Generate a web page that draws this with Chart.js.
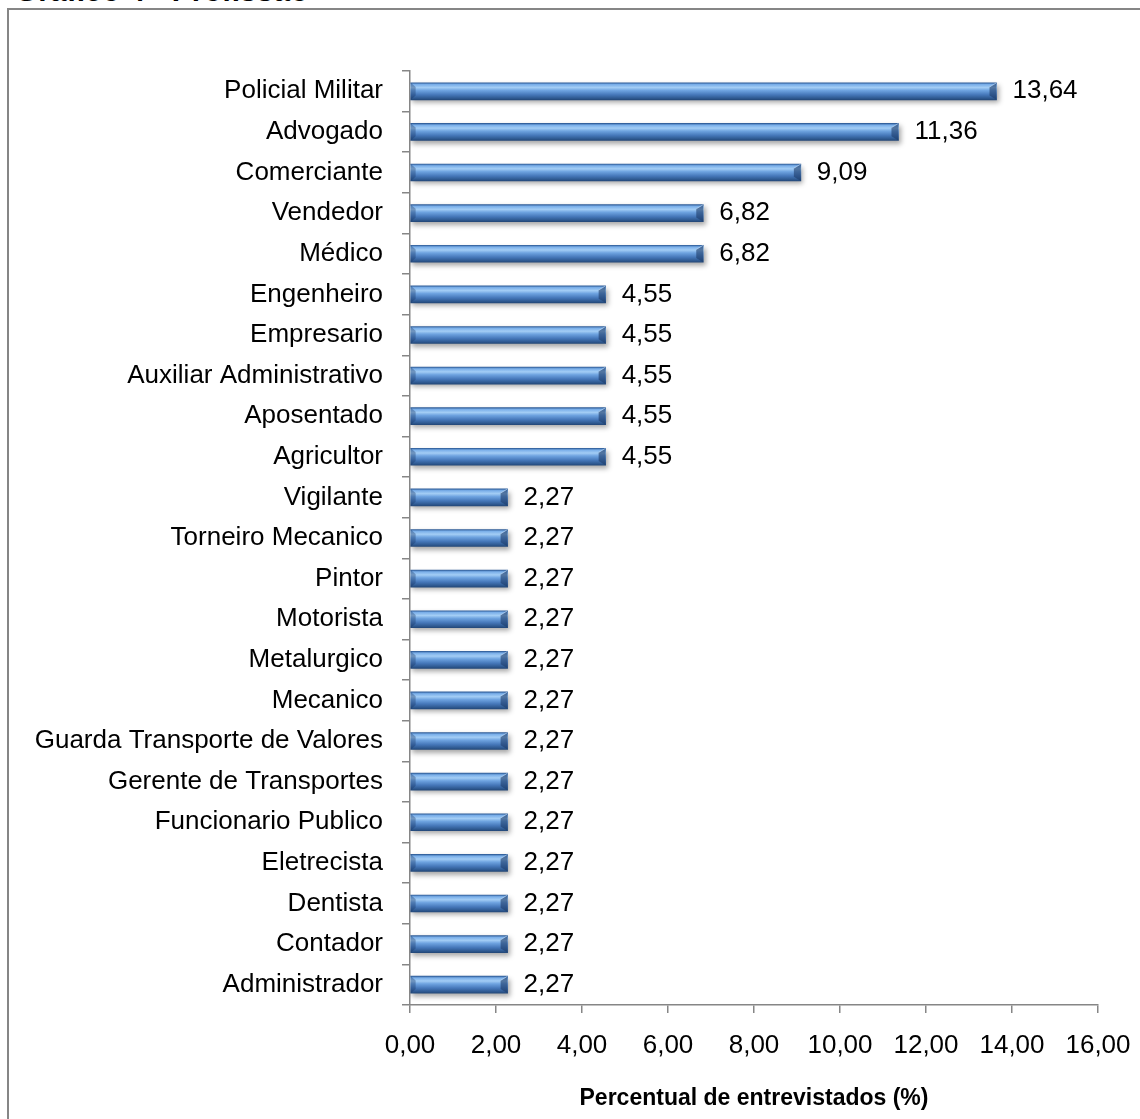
<!DOCTYPE html>
<html>
<head>
<meta charset="utf-8">
<script src="https://cdn.jsdelivr.net/npm/chart.js@4"></script>
<style>
  html, body { margin: 0; padding: 0; background: #fff; overflow: hidden; }
  #wrap { position: relative; width: 1140px; height: 1119px; }
  #frame { position: absolute; left: 7px; top: 8px; width: 1200px; height: 1200px;
           border-top: 2px solid #868686; border-left: 2px solid #868686; box-sizing: border-box; }
  #heading { position: absolute; left: 15px; top: -24px; margin: 0;
             font: bold 30px "Liberation Sans", Arial, sans-serif; line-height: 30px; color: #000; white-space: nowrap; }
  canvas { position: absolute; left: 0; top: 0; }
</style>
</head>
<body>
<div id="wrap">
  <div id="frame"></div>
  <div id="heading">Gráfico 4 - Profissão</div>
  <canvas id="c" width="1140" height="1119"></canvas>
</div>
<script>
// Profession categories, top to bottom
const categories = [
  'Policial Militar', 'Advogado', 'Comerciante', 'Vendedor', 'Médico',
  'Engenheiro', 'Empresario', 'Auxiliar Administrativo', 'Aposentado', 'Agricultor',
  'Vigilante', 'Torneiro Mecanico', 'Pintor', 'Motorista', 'Metalurgico',
  'Mecanico', 'Guarda Transporte de Valores', 'Gerente de Transportes',
  'Funcionario Publico', 'Eletrecista', 'Dentista', 'Contador', 'Administrador'
];
// Share of respondents (%)
const percentages = [
  13.64, 11.36, 9.09, 6.82, 6.82,
  4.55, 4.55, 4.55, 4.55, 4.55,
  2.27, 2.27, 2.27, 2.27, 2.27,
  2.27, 2.27, 2.27, 2.27, 2.27, 2.27, 2.27, 2.27
];
const xTicks = [0, 2, 4, 6, 8, 10, 12, 14, 16];
const axisTitle = 'Percentual de entrevistados (%)';

const FONT = '"Liberation Sans", Arial, sans-serif';
const AXIS_GREY = '#868686';
const BAR_H = 17;

const fmt = v => Number(v).toFixed(2).replace('.', ',');

// Cylinder-like vertical gradient for each bar
function barFill(ctx) {
  const chart = ctx.chart;
  const y = chart.scales.y;
  if (!y || ctx.dataIndex === undefined) return '#4f81bd';
  const cy = y.getPixelForValue(ctx.dataIndex);
  if (!isFinite(cy)) return '#4f81bd';
  const g = chart.ctx.createLinearGradient(0, cy - BAR_H / 2, 0, cy + BAR_H / 2);
  g.addColorStop(0.00, '#2f5d99');
  g.addColorStop(0.10, '#79aee9');
  g.addColorStop(0.28, '#a3cdf5');
  g.addColorStop(0.45, '#6ea3e0');
  g.addColorStop(0.70, '#4678ba');
  g.addColorStop(0.90, '#2f5a92');
  g.addColorStop(1.00, '#24497a');
  return g;
}

// Soft drop shadow under the bars plus bevelled ends
const barDecor = {
  id: 'barDecor',
  beforeDatasetDraw(chart) {
    const c = chart.ctx;
    c.save();
    c.shadowColor = 'rgba(0,0,0,0.35)';
    c.shadowBlur = 5;
    c.shadowOffsetX = 2;
    c.shadowOffsetY = 3;
  },
  afterDatasetDraw(chart) {
    const c = chart.ctx;
    c.restore();
    const meta = chart.getDatasetMeta(0);
    const b = 7;
    meta.data.forEach(el => {
      const top = el.y - el.height / 2, bot = el.y + el.height / 2;
      const l = el.base, r = el.x;
      c.save();
      // right end facet
      c.fillStyle = 'rgba(30,60,105,0.6)';
      c.beginPath();
      c.moveTo(r - b, top + b * 0.6);
      c.lineTo(r, top);
      c.lineTo(r, bot);
      c.lineTo(r - b, bot - b * 0.6);
      c.closePath();
      c.fill();
      // right end highlight edge
      c.strokeStyle = 'rgba(200,225,250,0.6)';
      c.lineWidth = 1;
      c.beginPath();
      c.moveTo(r - b, top + b * 0.6);
      c.lineTo(r, top);
      c.stroke();
      // left end bevel
      c.fillStyle = 'rgba(20,50,95,0.35)';
      c.beginPath();
      c.moveTo(l, top);
      c.lineTo(l + b * 0.7, top + b * 0.6);
      c.lineTo(l + b * 0.7, bot - b * 0.6);
      c.lineTo(l, bot);
      c.closePath();
      c.fill();
      c.restore();
    });
  }
};

// Value labels to the right of each bar and the axis title
const valueLabels = {
  id: 'valueLabels',
  afterDatasetsDraw(chart) {
    const c = chart.ctx;
    const meta = chart.getDatasetMeta(0);
    c.save();
    c.font = '26px ' + FONT;
    c.fillStyle = '#000';
    c.textAlign = 'left';
    c.textBaseline = 'middle';
    meta.data.forEach((el, i) => {
      c.fillText(fmt(chart.data.datasets[0].data[i]), el.x + 16, el.y);
    });
    const area = chart.chartArea;
    c.font = 'bold 23px ' + FONT;
    c.textAlign = 'center';
    c.textBaseline = 'alphabetic';
    c.fillText(axisTitle, (area.left + area.right) / 2, 1105);
    c.restore();
  }
};

new Chart(document.getElementById('c'), {
  type: 'bar',
  data: {
    labels: categories,
    datasets: [{
      data: percentages,
      backgroundColor: barFill,
      borderWidth: 0,
      barThickness: BAR_H
    }]
  },
  options: {
    indexAxis: 'y',
    responsive: false,
    animation: false,
    layout: { padding: { left: 0, right: 42, top: 71, bottom: 0 } },
    plugins: { legend: { display: false }, tooltip: { enabled: false } },
    scales: {
      x: {
        min: 0, max: 16,
        afterBuildTicks: s => { s.ticks = xTicks.map(v => ({ value: v })); },
        afterFit: s => { s.height = 114; s.paddingLeft = 0; s.paddingRight = 0; },
        ticks: {
          callback: v => fmt(v),
          color: '#000',
          font: { family: FONT, size: 26 },
          padding: 17,
          maxRotation: 0
        },
        grid: { drawOnChartArea: false, drawTicks: true, tickLength: 8, color: AXIS_GREY, lineWidth: 1.5 },
        border: { color: AXIS_GREY, width: 1.5 }
      },
      y: {
        afterFit: s => { s.width = 410; s.paddingTop = 0; s.paddingBottom = 0; },
        ticks: {
          color: '#000',
          font: { family: FONT, size: 26 },
          padding: 19,
          autoSkip: false
        },
        grid: { offset: true, drawOnChartArea: false, tickLength: 8, color: AXIS_GREY, lineWidth: 1.5 },
        border: { color: AXIS_GREY, width: 1.5 }
      }
    }
  },
  plugins: [barDecor, valueLabels]
});
</script>
</body>
</html>
